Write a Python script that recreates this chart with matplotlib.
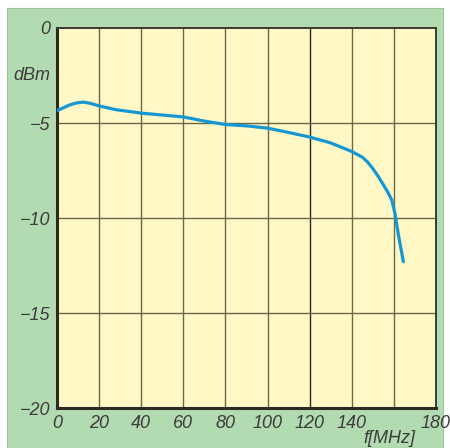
import matplotlib.pyplot as plt
from matplotlib.patches import Rectangle

# frequency response
freq_mhz = [0, 3, 6, 9, 12.5, 16, 20, 28, 40, 50, 60, 70, 80, 90, 100, 110,
            120, 130, 140, 145, 147.5, 150, 152.5, 155, 157, 159, 160.5, 162,
            164.5]
level_dbm = [-4.35, -4.2, -4.05, -3.95, -3.9, -3.97, -4.1, -4.3, -4.48, -4.58,
             -4.68, -4.9, -5.08, -5.15, -5.27, -5.5, -5.74, -6.05, -6.5, -6.8,
             -7.05, -7.4, -7.8, -8.25, -8.62, -9.05, -9.75, -10.8, -12.3]

x_ticks = [0, 20, 40, 60, 80, 100, 120, 140, 180]
x_grid = [20, 40, 60, 80, 100, 120, 140, 160]
y_ticks = [0, -5, -10, -15, -20]

green = '#b3dbb1'
yellow = '#fff8c6'
grid_col = '#6e6648'
line_col = '#1597d4'
text_col = '#3c3c3c'

plt.rcParams['font.family'] = ['Liberation Sans', 'DejaVu Sans']

fig = plt.figure(figsize=(4.5, 4.48), dpi=100)
fig.patch.set_facecolor('white')
fig.patches.append(Rectangle((7 / 450, 0), 436 / 450, 440 / 448,
                             transform=fig.transFigure, facecolor=green,
                             edgecolor='#a0c4a0', lw=0.8, zorder=-5))

ax = fig.add_axes([57 / 450, 1 - 408 / 448, 379 / 450, 380 / 448])
ax.set_facecolor(yellow)
ax.set_xlim(0, 180)
ax.set_ylim(-20, 0)

for g in x_grid:
    ax.axvline(g, color='#2a2a22' if g == 120 else grid_col, lw=1.0, zorder=1)
for g in y_ticks[1:-1]:
    ax.axhline(g, color=grid_col, lw=1.0, zorder=1)

ax.plot(freq_mhz, level_dbm, color=line_col, lw=2.3, zorder=3,
        solid_capstyle='round', solid_joinstyle='round')

for side in ['top', 'right']:
    ax.spines[side].set_linewidth(1.4)
    ax.spines[side].set_color('#3a3a30')
for side in ['left', 'bottom']:
    ax.spines[side].set_linewidth(2.2)
    ax.spines[side].set_color('#2a2a22')

ax.set_xticks(x_ticks)
ax.set_xticklabels([str(t) for t in x_ticks])
ax.set_yticks(y_ticks)
ax.set_yticklabels([str(t).replace('-', '\u2212') for t in y_ticks])
ax.tick_params(length=0, labelsize=13, colors=text_col, pad=5)
for lab in ax.get_xticklabels() + ax.get_yticklabels():
    lab.set_fontstyle('italic')

ax.text(-3.3, -2.5, 'dBm', ha='right', va='center', fontsize=13,
        fontstyle='italic', color=text_col)
ax.text(158, -21.6, 'f[MHz]', ha='center', va='center', fontsize=13,
        fontstyle='italic', color=text_col, clip_on=False)

fig.savefig('out.png', dpi=100, facecolor=fig.get_facecolor())
